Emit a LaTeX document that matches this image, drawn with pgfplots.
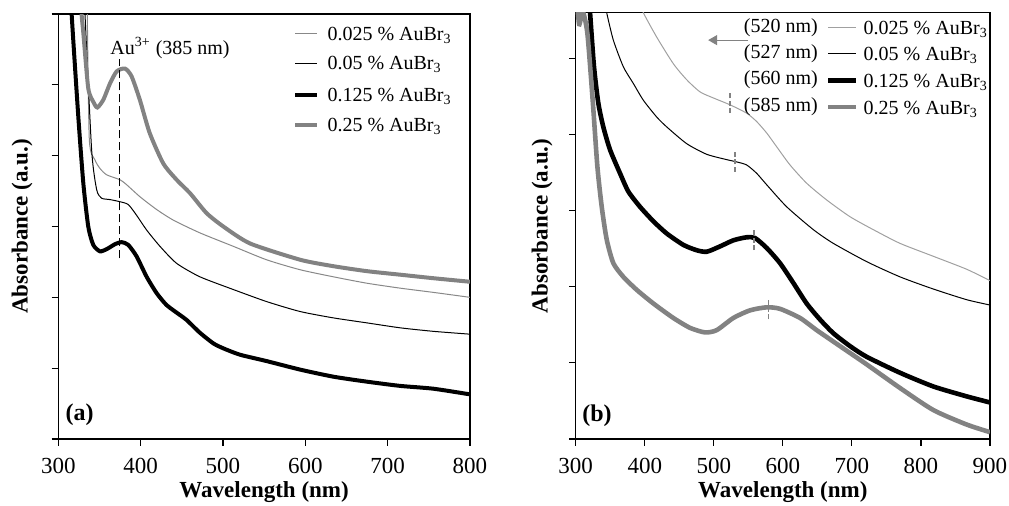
\documentclass[border=0pt]{standalone}
\usepackage{fontspec}
\setmainfont{Liberation Serif}
\usepackage{pgfplots}
\pgfplotsset{compat=1.18}
\usetikzlibrary{arrows.meta}
\definecolor{lg}{RGB}{136,136,136}
\definecolor{lg2}{RGB}{160,160,160}
\definecolor{tg}{RGB}{130,130,130}
\tikzset{legfont/.style={font=\fontsize{10}{12}\selectfont, inner sep=0pt}}
\begin{document}
\begin{tikzpicture}
\useasboundingbox (0,0) rectangle (504.5pt,252.5pt);
\pgfplotsset{
 myax/.style={scale only axis, anchor=south west,
  axis line style={line width=0.6pt},
  tick align=outside, major tick length=3.3pt,
  xtick pos=bottom, ytick pos=left,
  tick style={line width=0.6pt, black},
  yticklabels={},
  xticklabel style={font=\fontsize{11.5}{13}\selectfont, yshift=-2.8pt},
  /pgf/number format/assume math mode=true,
  xlabel={Wavelength (nm)}, ylabel={Absorbance (a.u.)},
  label style={font=\bfseries\fontsize{11.5}{14}\selectfont},
  xlabel style={at={(axis description cs:0.5,-0.124)}, anchor=center},
 }
}
% ---------------- (a) ----------------
\begin{axis}[myax, at={(29.15pt,33pt)}, width=205.85pt, height=212.5pt,
  xmin=300, xmax=800, ymin=0, ymax=6,
  xtick={300,400,...,800}, ytick={0,1,2,3,4,5,6},
  ylabel style={at={(axis description cs:-0.088,0.5)}, anchor=center}]
\addplot[lg, line width=0.5pt, smooth, tension=0.4] coordinates {
(334.5,6.5) (335.2,6.0) (337.7,4.22) (344.5,3.94) (350.6,3.82) (358.7,3.73) (374.9,3.66) (383,3.59) (399.2,3.42) (419.4,3.24) (439.7,3.09) (472,2.91) (512.6,2.72) (553,2.53) (593.6,2.39) (634,2.29) (674.5,2.20) (715,2.13) (755.5,2.07) (800,2.0)};
\addplot[black, line width=0.5pt, smooth, tension=0.4] coordinates {
(330,6.6) (332.4,6.0) (340.5,4.08) (346.6,3.52) (352.6,3.40) (362.8,3.38) (374.9,3.35) (385,3.31) (395,3.16) (407.3,2.95) (423.5,2.72) (443.7,2.48) (472,2.29) (512.6,2.11) (553,1.94) (593.6,1.80) (634,1.71) (674.5,1.64) (715,1.57) (755.5,1.52) (800,1.48)};
\addplot[black, line width=2pt, smooth, tension=0.4] coordinates {
(313,6.8) (316.2,6.0) (324.3,4.55) (330.4,3.61) (336.4,3.0) (342.5,2.74) (350.6,2.65) (358.7,2.68) (368.8,2.75) (376.9,2.78) (385,2.74) (395,2.58) (407.3,2.29) (419.4,2.06) (431.6,1.89) (447.8,1.75) (455.9,1.68) (472,1.50) (488.3,1.35) (500.4,1.28) (520.7,1.19) (553,1.10) (593.6,0.98) (634,0.88) (674.5,0.81) (715,0.75) (755.5,0.71) (800,0.63)};
\addplot[tg, line width=2pt, smooth, tension=0.4] coordinates {
(326,6.6) (328.3,6.0) (330.4,5.73) (336.4,4.95) (342.5,4.76) (347.4,4.68) (354.7,4.79) (362.8,5.02) (370.9,5.19) (381,5.23) (389,5.12) (399,4.79) (411,4.32) (427.5,3.89) (443.7,3.66) (460,3.47) (480,3.19) (500.4,3.0) (533,2.76) (594,2.53) (634,2.44) (674.5,2.37) (715,2.32) (755.5,2.27) (800,2.22)};
\addplot[black, line width=0.7pt, dash pattern=on 4pt off 2pt, forget plot] coordinates {(374,2.55) (374,5.36)};
\node[font=\fontsize{10}{12}\selectfont] at (axis cs:435.7,5.52) {Au\textsuperscript{3+} (385 nm)};
\node[font=\bfseries\fontsize{12}{14}\selectfont] at (axis cs:326,0.34) {(a)};
% legend
\draw[lg, line width=0.5pt] (axis cs:587.5,5.728) -- (axis cs:614.3,5.728);
\draw[black, line width=0.5pt] (axis cs:587.5,5.304) -- (axis cs:614.3,5.304);
\draw[black, line width=2pt] (axis cs:587.5,4.857) -- (axis cs:614.3,4.857);
\draw[tg, line width=2pt] (axis cs:587.5,4.433) -- (axis cs:614.3,4.433);
\node[legfont, anchor=base west] at (axis cs:626.5,5.633) {0.025 \% AuBr\textsubscript{3}};
\node[legfont, anchor=base west] at (axis cs:626.5,5.21) {0.05 \% AuBr\textsubscript{3}};
\node[legfont, anchor=base west] at (axis cs:626.5,4.762) {0.125 \% AuBr\textsubscript{3}};
\node[legfont, anchor=base west] at (axis cs:626.5,4.339) {0.25 \% AuBr\textsubscript{3}};
\end{axis}
% ---------------- (b) ----------------
\begin{axis}[myax, at={(287.85pt,33pt)}, width=207.15pt, height=213.15pt,
  xmin=300, xmax=900, ymin=0, ymax=5.6,
  xtick={300,400,...,900}, ytick={0,1,2,3,4,5},
  ylabel style={at={(axis description cs:-0.081,0.5)}, anchor=center}]
\addplot[lg2, line width=0.5pt, smooth, tension=0.4] coordinates {
(390,5.8) (398,5.60) (417.3,5.28) (441.4,4.93) (460.7,4.72) (480,4.56) (499.4,4.48) (523.5,4.39) (547.6,4.28) (562.1,4.17) (576.6,4.02) (591,3.84) (610.4,3.60) (634.5,3.36) (663.5,3.14) (697.3,2.92) (731,2.75) (769.7,2.57) (818,2.40) (866.2,2.23) (900,2.08)};
\addplot[black, line width=0.5pt, smooth, tension=0.4] coordinates {
(340,5.85) (344.9,5.60) (354.5,5.24) (369,4.89) (383.5,4.67) (398,4.45) (417.3,4.23) (431.8,4.10) (460.7,3.88) (489.7,3.74) (518.7,3.67) (533.1,3.64) (547.6,3.60) (562.1,3.49) (576.6,3.34) (605.6,3.05) (644.2,2.75) (673.1,2.57) (721.4,2.33) (769.7,2.13) (818,1.97) (866.2,1.83) (900,1.76)};
\addplot[black, line width=2.3pt, smooth, tension=0.4] coordinates {
(318,6.0) (320.8,5.60) (326.5,4.89) (332.8,4.41) (340,4.10) (349.7,3.80) (364.2,3.49) (376.3,3.25) (393.2,3.05) (412.5,2.86) (431.8,2.70) (455.9,2.55) (475.2,2.48) (489.7,2.46) (509,2.53) (528.3,2.61) (547.6,2.65) (559.7,2.64) (576.6,2.51) (595.9,2.31) (615.2,2.05) (634.5,1.78) (653.8,1.57) (673.1,1.39) (697.3,1.22) (721.4,1.08) (769.7,0.87) (818,0.69) (866.2,0.56) (900,0.48)};
\addplot[tg, line width=2.3pt, smooth, tension=0.4] coordinates {
(300.5,5.9) (305,5.45) (310,5.62) (316.9,5.33) (324.6,4.45) (331.4,3.58) (337.7,3.05) (344.9,2.62) (354.5,2.31) (369,2.13) (388.3,1.96) (412.5,1.78) (441.4,1.59) (465.6,1.46) (487.3,1.40) (504.2,1.43) (528.3,1.59) (552.4,1.69) (576.6,1.73) (595.9,1.71) (624.9,1.59) (649,1.43) (673.1,1.28) (697.3,1.13) (721.4,0.98) (769.7,0.67) (818,0.38) (866.2,0.19) (900,0.09)};
% peak marks
\addplot[tg, line width=0.6pt, dash pattern=on 2.5pt off 1.2pt, forget plot] coordinates {(523.5,4.28) (523.5,4.56)};
\addplot[tg, line width=0.6pt, dash pattern=on 2.5pt off 1.2pt, forget plot] coordinates {(530.7,3.51) (530.7,3.79)};
\addplot[tg, line width=0.6pt, dash pattern=on 2.5pt off 1.2pt, forget plot] coordinates {(558.2,2.48) (558.2,2.76)};
\addplot[tg, line width=0.6pt, dash pattern=on 2.5pt off 1.2pt, forget plot] coordinates {(579.5,1.57) (579.5,1.82)};
% arrow
\draw[tg, line width=0.6pt, -{Triangle[length=4.5pt,width=5pt]}] (axis cs:549.7,5.24) -- (axis cs:491.8,5.24);
\node[font=\bfseries\fontsize{12}{14}\selectfont] at (axis cs:330.8,0.31) {(b)};
% legend
\draw[lg2, line width=0.5pt] (axis cs:665.8,5.403) -- (axis cs:705.5,5.403);
\draw[black, line width=0.5pt] (axis cs:665.8,5.062) -- (axis cs:705.5,5.062);
\draw[black, line width=2.3pt] (axis cs:665.8,4.711) -- (axis cs:705.5,4.711);
\draw[tg, line width=2.3pt] (axis cs:665.8,4.361) -- (axis cs:705.5,4.361);
\node[legfont, anchor=base east] at (axis cs:651.3,5.344) {(520 nm)};
\node[legfont, anchor=base east] at (axis cs:651.3,5.003) {(527 nm)};
\node[legfont, anchor=base east] at (axis cs:651.3,4.652) {(560 nm)};
\node[legfont, anchor=base east] at (axis cs:651.3,4.302) {(585 nm)};
\node[legfont, anchor=base west] at (axis cs:716.5,5.311) {0.025 \% AuBr\textsubscript{3}};
\node[legfont, anchor=base west] at (axis cs:716.5,4.970) {0.05 \% AuBr\textsubscript{3}};
\node[legfont, anchor=base west] at (axis cs:716.5,4.619) {0.125 \% AuBr\textsubscript{3}};
\node[legfont, anchor=base west] at (axis cs:716.5,4.269) {0.25 \% AuBr\textsubscript{3}};
\end{axis}
\end{tikzpicture}
\end{document}
